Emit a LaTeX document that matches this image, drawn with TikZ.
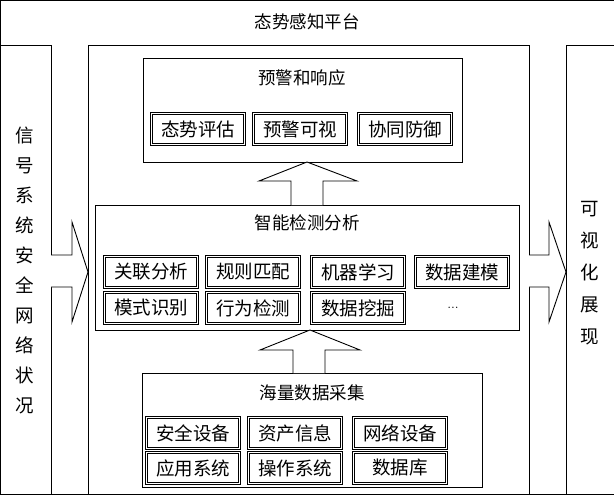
\documentclass[tikz,border=0pt]{standalone}
\usepackage{fontspec}
\newfontfamily\cjk{Noto Sans CJK SC}
\usepackage{tikz}

\begin{document}
\begin{tikzpicture}[x=1pt,y=-1pt,line width=0.9pt,
    font=\cjk,
    bigbox/.style={draw,anchor=north west,inner sep=0pt},
    tbox/.style={draw,minimum width=93pt,minimum height=31pt,inner sep=0pt,font=\cjk\fontsize{18.5}{20}\selectfont,double,double distance=1.2pt},
    ttl/.style={font=\cjk\fontsize{17.5}{20}\selectfont},
    vtxt/.style={font=\cjk\fontsize{18.5}{20}\selectfont,align=center}]
    \useasboundingbox (0,0) rectangle (614,496);
    \draw (0,0) rectangle (614,494);
    \node[ttl] (plat) at (307,22) {态势感知平台};
    \draw (0,45) rectangle (51,494);
    \draw (88,45) rectangle (529,494);
    \draw (566,45) rectangle (614,494);
    \node[vtxt] (inp) at (25,270) {信\\[10pt]号\\[10pt]系\\[10pt]统\\[10pt]安\\[10pt]全\\[10pt]网\\[10pt]络\\[10pt]状\\[10pt]况};
    \node[vtxt] (outp) at (590,273) {可\\[12pt]视\\[12pt]化\\[12pt]展\\[12pt]现};

    % top layer
    \node[bigbox,minimum width=319pt,minimum height=104pt] (warn) at (143,58) {};
    \node[ttl] (warnt) at (302,78) {预警和响应};
    \node[tbox] (w1) at (198,129) {态势评估};
    \node[tbox] (w2) at (300,129) {预警可视};
    \node[tbox] (w3) at (405,129) {协同防御};

    % middle layer
    \node[bigbox,minimum width=424pt,minimum height=125pt] (ana) at (95,205) {};
    \node[ttl] (anat) at (307,223) {智能检测分析};
    \node[tbox] (a1) at (151,272) {关联分析};
    \node[tbox] (a2) at (253,272) {规则匹配};
    \node[tbox] (a3) at (358,272) {机器学习};
    \node[tbox] (a4) at (462,272) {数据建模};
    \node[tbox] (a5) at (151,308) {模式识别};
    \node[tbox] (a6) at (253,308) {行为检测};
    \node[tbox] (a7) at (358,308) {数据挖掘};
    \node[font=\fontsize{14}{16}\selectfont] (a8) at (453,308) {...};

    % bottom layer
    \node[bigbox,minimum width=340pt,minimum height=114pt] (col) at (142,373) {};
    \node[ttl] (colt) at (312,393) {海量数据采集};
    \node[tbox] (c1) at (193,433) {安全设备};
    \node[tbox] (c2) at (295,433) {资产信息};
    \node[tbox] (c3) at (400,433) {网络设备};
    \node[tbox] (c4) at (193,468) {应用系统};
    \node[tbox] (c5) at (295,468) {操作系统};
    \node[tbox] (c6) at (400,468) {数据库};

    % block arrows
    \draw[fill=white] (ana.north -| 291,0) -- (291,181) -- (259,181) -- (307,162)
      -- (357,181) -- (323,181) -- (ana.north -| 323,0);
    \draw[fill=white] (col.north -| 293,0) -- (293,350) -- (260,350) -- (310,330)
      -- (360,350) -- (325,350) -- (col.north -| 325,0);
    \draw[fill=white] (51,255) -- (72,255) -- (72,222) -- (88,272) -- (72,322)
      -- (72,287) -- (51,287);
    \draw[fill=white] (529,255) -- (549,255) -- (549,222) -- (566,272) -- (549,322)
      -- (549,287) -- (529,287);
\end{tikzpicture}
\end{document}
